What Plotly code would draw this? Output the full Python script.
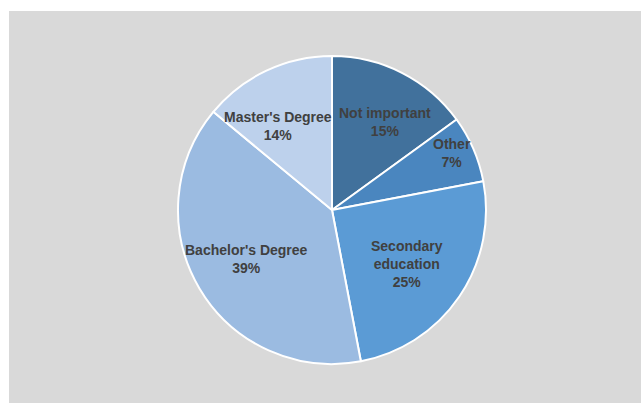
import math
import plotly.graph_objects as go

# Survey answers, listed clockwise from 12 o'clock
categories = ["Not important", "Other", "Secondary education", "Bachelor's Degree", "Master's Degree"]
label_text = ["Not important", "Other", "Secondary<br>education", "Bachelor's Degree", "Master's Degree"]
shares = [15, 7, 25, 39, 14]

colors = ["#41719c", "#4a86bf", "#5b9bd5", "#9bbbe1", "#bdd1ec"]

W, H = 641, 403
cx, cy, R = 332, 210, 154          # pie centre and radius in pixels
label_radius = [0.667, 0.86, 0.60, 0.64, 0.645]  # label distance as a fraction of R
label_turn = [4.0, -2.0, 1.6, 0.5, -7.4]          # small angular nudges (degrees)

fig = go.Figure(go.Pie(
    labels=categories,
    values=shares,
    sort=False,
    direction="clockwise",
    rotation=0,
    marker=dict(colors=colors, line=dict(color="white", width=2)),
    textinfo="none",
    hoverinfo="label+percent",
    showlegend=False,
    domain=dict(x=[(cx - R) / W, (cx + R) / W], y=[1 - (cy + R) / H, 1 - (cy - R) / H]),
))

# Labels near the middle angle of each slice
total = sum(shares)
annotations = []
start = 0.0
for name, v, f, turn in zip(label_text, shares, label_radius, label_turn):
    mid = (start + v / 2) / total * 2 * math.pi + math.radians(turn)
    start += v
    px = cx + R * f * math.sin(mid)
    py = cy - R * f * math.cos(mid)
    pct = round(v / total * 100)
    annotations.append(dict(
        x=px / W, y=1 - py / H, xref="paper", yref="paper",
        text=f"<b>{name}<br>{pct}%</b>", showarrow=False,
        font=dict(family="Liberation Sans", size=14, color="#404040"),
        align="center", xanchor="center", yanchor="middle",
    ))

fig.update_layout(
    width=W, height=H,
    margin=dict(l=0, r=0, t=0, b=0),
    paper_bgcolor="white",
    shapes=[dict(type="rect", xref="paper", yref="paper", layer="below",
                 x0=9 / W, x1=1, y0=0, y1=1 - 11 / H,
                 fillcolor="#d9d9d9", line=dict(width=0))],
    annotations=annotations,
)

fig.write_html("out.html")
